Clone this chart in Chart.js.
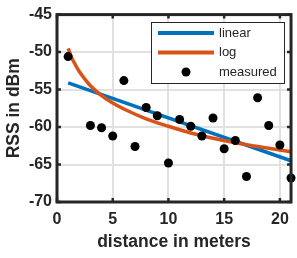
<!DOCTYPE html>
<html>
<head>
<meta charset="utf-8">
<script src="https://cdn.jsdelivr.net/npm/chart.js@4.4.1/dist/chart.umd.min.js"></script>
<style>
    body { margin: 0; background: #fff; }
    #wrap { width: 297px; height: 258px; }
</style>
</head>
<body>
<div id="wrap"><canvas id="rssChart" width="297" height="258"></canvas></div>
<script>
// measured RSS samples (distance in m, RSS in dBm)
const distances = [1, 3, 4, 5, 6, 7, 8, 9, 10, 11, 12, 13, 14, 15, 16, 17, 18, 19, 20, 21];
const measuredRss = [-50.6, -59.8, -60.1, -61.2, -53.8, -62.6, -57.4, -58.5, -64.8, -59.0,
                     -59.9, -61.2, -58.8, -62.9, -61.8, -66.6, -56.1, -59.8, -62.4, -66.8];

// linear fit line (end points)
const linearX = [1, 21];
const linearRss = [-54.1, -64.5];

// log fit curve
const logX = [1, 1.25, 1.5, 2, 2.5, 3, 4, 5, 6, 8, 10, 12, 14, 16, 18, 21];
const logRss = [-49.5, -50.5, -51.3, -52.6, -53.6, -54.5, -55.8, -56.8, -57.6, -58.9,
                -59.9, -60.8, -61.5, -62.1, -62.6, -63.3];

const xTicks = [0, 5, 10, 15, 20];
const yTicks = [-70, -65, -60, -55, -50, -45];

const FONT = "'Liberation Sans', Arial, sans-serif";
const DARK = '#262626';

const toPoints = (xs, ys) => xs.map((x, i) => ({ x: x, y: ys[i] }));

// box, inward ticks and legend, drawn on top like matlab does
const framePlugin = {
    id: 'frame',
    afterDraw(chart) {
        const { ctx, chartArea: a, scales: { x, y } } = chart;
        ctx.save();
        ctx.strokeStyle = DARK;
        ctx.lineWidth = 2.5;
        ctx.beginPath();
        xTicks.forEach(v => {
            const px = x.getPixelForValue(v);
            ctx.moveTo(px, a.bottom); ctx.lineTo(px, a.bottom - 4);
            ctx.moveTo(px, a.top); ctx.lineTo(px, a.top + 4);
        });
        yTicks.forEach(v => {
            const py = y.getPixelForValue(v);
            ctx.moveTo(a.left, py); ctx.lineTo(a.left + 4, py);
            ctx.moveTo(a.right, py); ctx.lineTo(a.right - 4, py);
        });
        ctx.stroke();
        ctx.lineWidth = 3;
        ctx.strokeRect(a.left, a.top, a.right - a.left, a.bottom - a.top);

        // legend
        const box = { left: 151, top: 22, width: 133, height: 61 };
        ctx.fillStyle = '#fff';
        ctx.fillRect(box.left, box.top, box.width, box.height);
        ctx.lineWidth = 1;
        ctx.strokeStyle = DARK;
        ctx.strokeRect(box.left + 0.5, box.top + 0.5, box.width, box.height);
        ctx.font = '13px ' + FONT;
        ctx.textBaseline = 'middle';
        ctx.textAlign = 'left';
        chart.data.datasets.forEach((ds, i) => {
            const rowY = box.top + 11 + i * 19.5;
            if (ds.showLine) {
                ctx.strokeStyle = ds.borderColor;
                ctx.lineWidth = 4;
                ctx.beginPath();
                ctx.moveTo(158, rowY);
                ctx.lineTo(214, rowY);
                ctx.stroke();
            } else {
                ctx.fillStyle = ds.backgroundColor;
                ctx.beginPath();
                ctx.arc(186, rowY, 4.5, 0, Math.PI * 2);
                ctx.fill();
            }
            ctx.fillStyle = DARK;
            ctx.fillText(ds.label, 219, rowY);
        });
        ctx.restore();
    }
};

const ctx = document.getElementById('rssChart').getContext('2d');
const rssChart = new Chart(ctx, {
    type: 'scatter',
    data: {
        datasets: [
            {
                label: 'linear',
                data: toPoints(linearX, linearRss),
                showLine: true,
                borderColor: '#0072BD',
                borderWidth: 3.5,
                pointRadius: 0,
                order: 2
            },
            {
                label: 'log',
                data: toPoints(logX, logRss),
                showLine: true,
                borderColor: '#D95319',
                borderWidth: 3.5,
                pointRadius: 0,
                cubicInterpolationMode: 'monotone',
                order: 1
            },
            {
                label: 'measured',
                data: toPoints(distances, measuredRss),
                showLine: false,
                backgroundColor: '#000',
                borderWidth: 0,
                pointRadius: 4.5,
                clip: false,
                order: 0
            }
        ]
    },
    options: {
        responsive: false,
        animation: false,
        layout: { padding: { top: 12, right: 2, left: 0, bottom: 0 } },
        plugins: { legend: { display: false }, tooltip: { enabled: false } },
        scales: {
            x: {
                type: 'linear',
                min: 0,
                max: 21,
                afterBuildTicks: scale => { scale.ticks = xTicks.map(v => ({ value: v })); },
                afterFit: scale => { scale.height = 56; },
                grid: { color: '#e1e1e1', lineWidth: 2, drawTicks: false },
                border: { display: false },
                ticks: { color: DARK, padding: 8, font: { family: FONT, size: 16, weight: 'bold' } },
                title: {
                    display: true,
                    text: 'distance in meters',
                    color: DARK,
                    font: { family: FONT, size: 17.5, weight: 'bold' },
                    padding: { top: 0, bottom: 5 }
                }
            },
            y: {
                type: 'linear',
                min: -70,
                max: -45,
                afterBuildTicks: scale => { scale.ticks = yTicks.map(v => ({ value: v })); },
                afterFit: scale => { scale.width = 57; },
                grid: { color: '#e1e1e1', lineWidth: 2, drawTicks: false },
                border: { display: false },
                ticks: { color: DARK, padding: 5, font: { family: FONT, size: 16, weight: 'bold' } },
                title: {
                    display: true,
                    text: 'RSS in dBm',
                    color: DARK,
                    font: { family: FONT, size: 17.5, weight: 'bold' },
                    padding: { top: 4, bottom: 0 }
                }
            }
        }
    },
    plugins: [framePlugin]
});
</script>
</body>
</html>
